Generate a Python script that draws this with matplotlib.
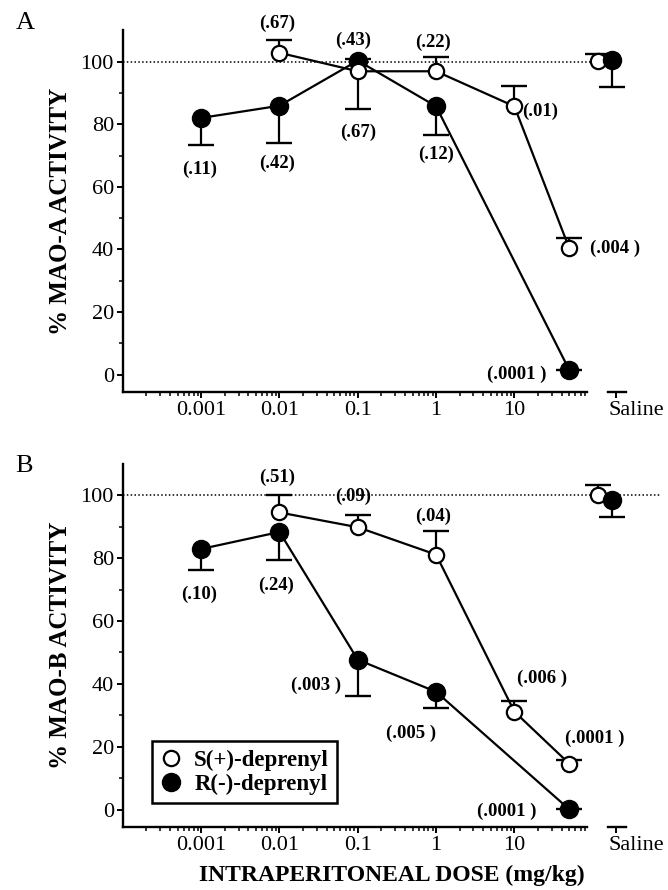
import matplotlib
matplotlib.use("Agg")
import matplotlib.pyplot as plt
import matplotlib.transforms as mtrans
import numpy as np

plt.rcParams['font.family'] = ['Liberation Serif', 'DejaVu Serif']

# doses (mg/kg), saline shown separately at the right
tick_vals = [0.001, 0.01, 0.1, 1, 10]
tick_labels = ['0.001', '0.01', '0.1', '1', '10']

# ---- panel A : MAO-A ----
a_s_dose = [0.01, 0.1, 1, 10, 50]
a_s_mean = [102.8, 96.9, 96.9, 85.7, 40.5]
a_s_err = [106.8, 84.7, 101.5, 92.3, 43.5]       # end of (one sided) error bar
a_s_p = ['(.67)', '(.67)', '(.22)', '(.01)', '(.004 )']
a_s_sal = [100.3, 102.5]                           # mean, error end

a_r_dose = [0.001, 0.01, 0.1, 1, 50]
a_r_mean = [82.0, 85.9, 100.3, 85.7, 1.6]
a_r_err = [73.2, 74.0, 100.9, 76.7, 1.6]
a_r_p = ['(.11)', '(.42)', '(.43)', '(.12)', '(.0001 )']
a_r_sal = [100.6, 91.9]

# ---- panel B : MAO-B ----
b_s_dose = [0.01, 0.1, 1, 10, 50]
b_s_mean = [94.5, 89.8, 81.1, 31.2, 14.7]
b_s_err = [100.0, 93.7, 88.7, 34.7, 15.8]
b_s_p = ['(.51)', '(.09)', '(.04)', '(.006 )', '(.0001 )']
b_s_sal = [100.0, 103.2]

b_r_dose = [0.001, 0.01, 0.1, 1, 50]
b_r_mean = [82.9, 88.3, 47.7, 37.5, 0.2]
b_r_err = [76.1, 79.5, 36.1, 32.3, 0.2]
b_r_p = ['(.10)', '(.24)', '(.003 )', '(.005 )', '(.0001 )']
b_r_sal = [98.4, 93.2]

# label offsets in pixels (layout only)
a_s_off = [(-2, 29), (0, -61), (-3, 29), (26, -5), (46, 0)]
a_r_off = [(-2, -51), (-2, -58), (-5, 20), (0, -48), (-52, -5)]
b_s_off = [(-2, 35), (-5, 31), (-3, 38), (28, 33), (26, 25)]
b_r_off = [(-2, -45), (-3, -53), (-42, -26), (-25, -42), (-62, -2)]

SAL_X = 201.0
XMIN, XMAX = 1e-4, 724


def draw_panel(ax, s, r, s_off, r_off, ylabel, letter, letter_y, dotted_end):
    s_dose, s_mean, s_err, s_p, s_sal = s
    r_dose, r_mean, r_err, r_p, r_sal = r
    ax.set_xscale('log')
    ax.set_xlim(XMIN, XMAX)
    ax.set_ylim(-5.4, 110)

    ax.axhline(100, xmin=0, xmax=dotted_end, ls=(0, (1, 1.5)), color='black', lw=1.1, zorder=1)

    # one sided error bars
    for dose, mean, err in [(s_dose, s_mean, s_err), (r_dose, r_mean, r_err),
                            ([SAL_X * 0.59], [s_sal[0]], [s_sal[1]]),
                            ([SAL_X * 0.87], [r_sal[0]], [r_sal[1]])]:
        ax.vlines(dose, mean, err, color='black', lw=1.6, zorder=2)
        ax.plot(dose, err, ls='none', marker='_', ms=19, mew=1.7, color='black', zorder=2)

    ax.plot(r_dose, r_mean, '-', color='black', lw=1.6, marker='o', ms=13,
            mfc='black', mec='black', zorder=3, label='R(-)-deprenyl')
    ax.plot(s_dose, s_mean, '-', color='black', lw=1.6, marker='o', ms=11,
            mfc='white', mec='black', mew=1.6, zorder=4, label='S(+)-deprenyl')
    ax.plot([SAL_X * 0.59], [s_sal[0]], ls='none', marker='o', ms=11,
            mfc='white', mec='black', mew=1.6, zorder=4)
    ax.plot([SAL_X * 0.87], [r_sal[0]], ls='none', marker='o', ms=13,
            mfc='black', mec='black', zorder=5)

    for dose, mean, labs, offs in [(s_dose, s_mean, s_p, s_off), (r_dose, r_mean, r_p, r_off)]:
        for x, y, t, o in zip(dose, mean, labs, offs):
            ax.annotate(t, (x, y), xytext=o, textcoords='offset pixels',
                        ha='center', va='center', fontsize=13.5, fontweight='bold', zorder=6)

    # axes styling
    ax.spines['top'].set_visible(False)
    ax.spines['right'].set_visible(False)
    ax.spines['left'].set_linewidth(1.7)
    ax.spines['bottom'].set_linewidth(1.7)
    ax.spines['bottom'].set_bounds(XMIN, 85)
    ax.set_yticks([0, 20, 40, 60, 80, 100])
    ax.set_yticks(np.arange(10, 110, 20), minor=True)
    minors = [k * 10.0 ** n for n in range(-4, 2) for k in range(2, 10)]
    ax.set_xticks([m for m in minors if m <= 85], minor=True)
    ax.set_xticks(tick_vals + [SAL_X])
    ax.set_xticklabels(tick_labels + ['Saline'])
    ax.tick_params(which='major', length=4.5, width=1.4, labelsize=16, direction='out')
    ax.tick_params(which='minor', length=3, width=1.1, direction='out')
    ax.tick_params(axis='x', pad=2)
    ax.tick_params(axis='y', pad=2)
    sal = ax.get_xticklabels()[-1]
    sal.set_horizontalalignment('left')
    sal.set_transform(sal.get_transform() + mtrans.ScaledTranslation(-8 / 100, 0, ax.figure.dpi_scale_trans))

    # short axis piece under Saline
    tr = mtrans.blended_transform_factory(ax.transData, ax.transAxes)
    ax.plot([SAL_X * 0.79, SAL_X * 1.34], [0, 0], color='black', lw=1.7,
            transform=tr, clip_on=False)

    ax.set_ylabel(ylabel, fontsize=18, fontweight='bold', labelpad=6)
    ax.text(-0.2, letter_y, letter, transform=ax.transAxes, fontsize=19, ha='left', va='center')


fig = plt.figure(figsize=(6.68, 8.9), dpi=100)
axA = fig.add_axes([0.184, 0.560, 0.804, 0.406])
axB = fig.add_axes([0.184, 0.071, 0.804, 0.408])

draw_panel(axA, (a_s_dose, a_s_mean, a_s_err, a_s_p, a_s_sal),
           (a_r_dose, a_r_mean, a_r_err, a_r_p, a_r_sal),
           a_s_off, a_r_off, '% MAO-A ACTIVITY', 'A', 1.02, 0.93)
draw_panel(axB, (b_s_dose, b_s_mean, b_s_err, b_s_p, b_s_sal),
           (b_r_dose, b_r_mean, b_r_err, b_r_p, b_r_sal),
           b_s_off, b_r_off, '% MAO-B ACTIVITY', 'B', 0.995, 1.0)

axB.set_xlabel('INTRAPERITONEAL DOSE (mg/kg)', fontsize=17, fontweight='bold', labelpad=7)

h, l = axB.get_legend_handles_labels()
leg = axB.legend(h[::-1], l[::-1], loc='lower left', bbox_to_anchor=(0.054, 0.065),
                 borderaxespad=0, fancybox=False, edgecolor='black', framealpha=1,
                 prop={'weight': 'bold', 'size': 16.5}, handlelength=1.0, handletextpad=0.5,
                 labelspacing=0.15, borderpad=0.35)
leg.get_frame().set_linewidth(1.8)
for lh in leg.legend_handles:
    lh.set_linestyle('none')

fig.savefig('out.png', dpi=100)
